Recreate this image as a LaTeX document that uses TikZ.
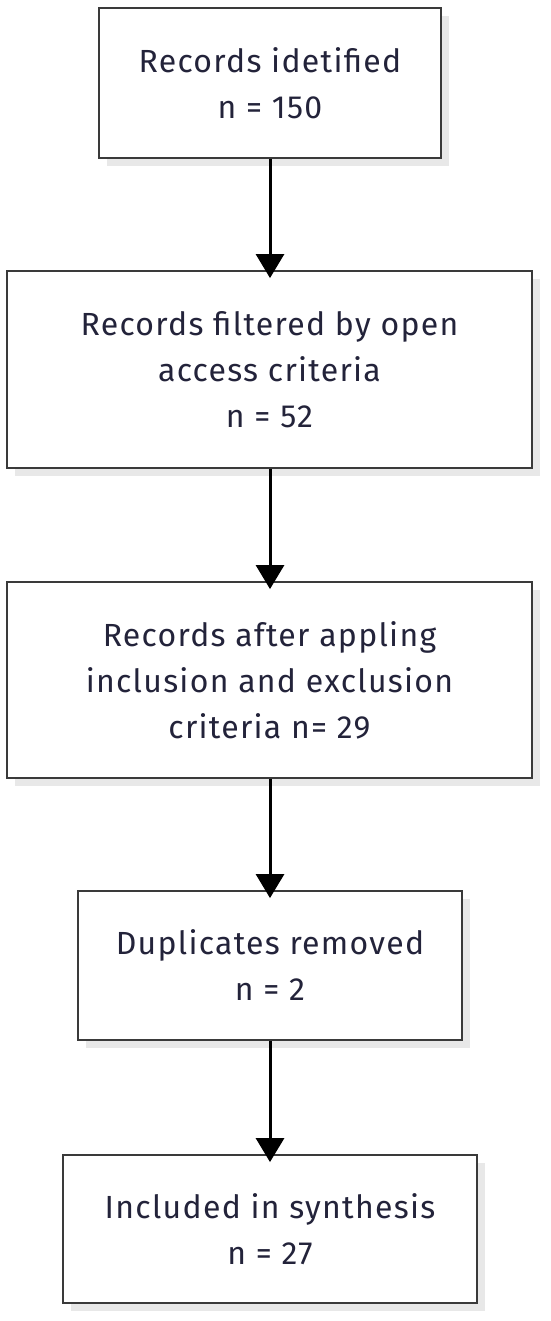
\documentclass[tikz,border=0pt]{standalone}
\usepackage{fontspec}
\setmainfont[LetterSpace=4]{Fira Sans}
\usetikzlibrary{arrows.meta,shadows}
\definecolor{txt}{HTML}{23233A}
\definecolor{edge}{HTML}{3A3A3A}
\definecolor{shd}{HTML}{E8E8E8}
\begin{document}
\begin{tikzpicture}[x=1pt,y=1pt,
  box/.style={draw=edge,line width=1.8pt,fill=white,text=txt,align=center,
    font=\fontsize{32}{46}\selectfont,inner sep=0pt,
    drop shadow={shadow xshift=8pt,shadow yshift=-8pt,fill=shd,opacity=1}},
  arr/.style={line width=3pt,-{Triangle[width=28pt,length=24pt]},black}]
\useasboundingbox (0,0) rectangle (550,-1321);
\node[box,minimum width=342pt,minimum height=150pt] (b1) at (270,-83) {Records idetified\\n = 150};
\node[box,minimum width=525pt,minimum height=197pt] (b2) at (269.5,-369.5) {Records filtered by open\\access criteria\\n = 52};
\node[box,minimum width=525pt,minimum height=196pt] (b3) at (269.5,-680) {Records after appling\\inclusion and exclusion\\criteria n= 29};
\node[box,minimum width=384pt,minimum height=149pt] (b4) at (270,-965.5) {Duplicates removed\\n = 2};
\node[box,minimum width=414pt,minimum height=148pt] (b5) at (270,-1229) {Included in synthesis\\n = 27};
\draw[arr] (b1.south) -- ([yshift=-8pt]b2.north -| b1.south);
\draw[arr] (b2.south -| b1.south) -- ([yshift=-8pt]b3.north -| b1.south);
\draw[arr] (b3.south -| b1.south) -- ([yshift=-8pt]b4.north -| b1.south);
\draw[arr] (b4.south) -- ([yshift=-8pt]b5.north);
\end{tikzpicture}
\end{document}
